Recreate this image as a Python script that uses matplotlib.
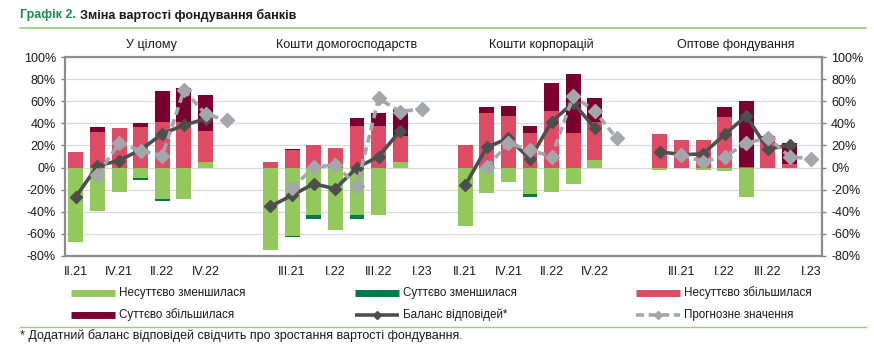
import numpy as np
import matplotlib
matplotlib.use("Agg")
import matplotlib.pyplot as plt
from matplotlib import font_manager
from matplotlib.lines import Line2D

names = {f.name for f in font_manager.fontManager.ttflist}
BASE = 'Liberation Sans' if 'Liberation Sans' in names else 'DejaVu Sans'
HAS_NARROW = 'Liberation Sans Narrow' in names
NARROW = 'Liberation Sans Narrow' if HAS_NARROW else BASE
LEG_FS = 9.5 if HAS_NARROW else 8.4
FOOT_FS = 9.5 if HAS_NARROW else 9.0
plt.rcParams['font.family'] = [BASE, 'DejaVu Sans']

nan = np.nan
categories = ["II.21", "III.21", "IV.21", "I.22", "II.22", "III.22", "IV.22", "I.23"]
panel_titles = ["У цілому", "Кошти домогосподарств", "Кошти корпорацій", "Оптове фондування"]

# Panel 1: У цілому
p1_light_green = [-67, -39, -22, -9, -28, -28, 5, nan]
p1_dark_green = [0, 0, 0, -2.4, -2.7, 0, 0, nan]
p1_pink = [14, 32.5, 35.5, 36.7, 41.5, 41.5, 28.3, nan]
p1_dark_red = [0, 4.2, 0, 3.6, 27.7, 30.4, 32.3, nan]
p1_balance = [-26.5, 1.5, 6.3, 16.2, 30.4, 38.5, 43.9, nan]
p1_forecast = [nan, -6.6, 22, 15.3, 10.8, 70, 48.4, 42.7]

# Panel 2: Кошти домогосподарств
p2_light_green = [-74.9, -62, -42.7, -56.5, -42.7, -42.7, 5.1, nan]
p2_dark_green = [0, -0.9, -3.9, 0, -3.9, 0, 0, nan]
p2_pink = [5.1, 15.6, 20.2, 18, 37.6, 37.6, 23.5, nan]
p2_dark_red = [0, 1.2, 0, 0, 7.2, 12, 24.3, nan]
p2_balance = [-35.2, -25, -14.7, -19.2, 0, 9.9, 33.4, nan]
p2_forecast = [nan, -18.6, 0.3, 2.4, -16.5, 62.5, 50.5, 53.2]

# Panel 3: Кошти корпорацій
p3_light_green = [-52.6, -23.2, -13.2, -23.8, -22, -15.3, 6.9, nan]
p3_dark_green = [0, 0, 0, -2.4, 0, 0, 0, nan]
p3_pink = [20.8, 49.6, 46.3, 31.3, 51.1, 31.3, 34.6, nan]
p3_dark_red = [0, 5.4, 9.6, 6.3, 25.6, 53.2, 21.1, nan]
p3_balance = [-16.2, 18.3, 26.5, 7.8, 41.5, 58.6, 35.5, nan]
p3_forecast = [nan, 0.3, 22, 15.9, 9.9, 64.7, 51.1, 26.5]

# Panel 4: Оптове фондування
p4_light_green = [-1.8, -0.6, -1.8, -3.3, -26.2, 0, 0, nan]
p4_dark_green = [0, 0, 0, 0, 0, 0, 0, nan]
p4_pink = [30.4, 24.7, 24.7, 46, 0.5, 27.4, 3, nan]
p4_dark_red = [0, 0, 0, 9, 60, 1.2, 19.5, nan]
p4_balance = [14.4, 11.7, 12.3, 30.1, 46.6, 16.5, 20.5, nan]
p4_forecast = [nan, 11.4, 5.4, 9.9, 22, 27.1, 9.9, 7.8]

panels = [
    (p1_light_green, p1_dark_green, p1_pink, p1_dark_red, p1_balance, p1_forecast),
    (p2_light_green, p2_dark_green, p2_pink, p2_dark_red, p2_balance, p2_forecast),
    (p3_light_green, p3_dark_green, p3_pink, p3_dark_red, p3_balance, p3_forecast),
    (p4_light_green, p4_dark_green, p4_pink, p4_dark_red, p4_balance, p4_forecast),
]

series_names = ["Несуттєво зменшилася", "Суттєво зменшилася", "Несуттєво збільшилася",
                "Суттєво збільшилася", "Баланс відповідей*", "Прогнозне значення"]
C_LG = '#92C85C'
C_DG = '#007A48'
C_PINK = '#DE4B65'
C_DR = '#7B0030'
C_BAL = '#4E4E4E'
C_FC = '#A3A7AB'
bar_colors = [C_LG, C_DG, C_PINK, C_DR]

W, H = 874, 360
fig = plt.figure(figsize=(W / 100, H / 100), dpi=100)
ax = fig.add_axes([65 / W, 1 - 256 / H, (822 - 65) / W, (256 - 57) / H])

n = len(categories)
step = n + 1
tick_pos, tick_lab = [], []
for p, data in enumerate(panels):
    x = np.arange(n) + p * step
    pos_bottom = np.zeros(n)
    neg_bottom = np.zeros(n)
    for vals, col in zip(data[:4], bar_colors):
        v = np.array(vals, dtype=float)
        v0 = np.nan_to_num(v)
        bottom = np.where(v0 >= 0, pos_bottom, neg_bottom)
        mask = v0 != 0
        ax.bar(x[mask], v0[mask], bottom=bottom[mask], width=0.69, color=col,
               zorder=2, linewidth=0)
        pos_bottom = pos_bottom + np.where(v0 > 0, v0, 0)
        neg_bottom = neg_bottom + np.where(v0 < 0, v0, 0)
    ax.plot(x, data[4], color=C_BAL, lw=2.6, marker='D', ms=6.2, zorder=3)
    ax.plot(x, data[5], color=C_FC, lw=2.6, ls=(0, (2.2, 1.3)), marker='D', ms=7.2,
            zorder=4)
    start = 0 if p % 2 == 0 else 1
    for i in range(start, n, 2):
        tick_pos.append(x[i])
        tick_lab.append(categories[i])
    fig.text((65 + (p * step + 3.5 + 0.5) * (757 / (4 * step - 1))) / W, 1 - 45 / H,
             panel_titles[p], ha='center', va='center', fontsize=9, color='#1a1a1a')

ax.set_xlim(-0.5, 4 * step - 1.5)
ax.set_ylim(-80, 100)
ax.set_yticks(np.arange(-80, 101, 20))
ax.set_yticklabels([f"{v}%" for v in range(-80, 101, 20)])
ax.set_xticks(tick_pos)
ax.set_xticklabels(tick_lab)
ax.tick_params(axis='x', length=0, pad=7, labelsize=9, colors='#1a1a1a')
ax.tick_params(axis='y', left=True, right=True, labelleft=True, labelright=True,
               length=3, width=1, color='#808080', labelsize=9, labelcolor='#1a1a1a',
               direction='out')
ax.grid(axis='y', color='#D9D9D9', lw=0.9, zorder=0)
ax.set_axisbelow(True)
for s in ax.spines.values():
    s.set_color('#8C8C8C')
    s.set_linewidth(1.6)

# Title
t1 = fig.text(20 / W, 1 - 15 / H, "Графік 2.", fontsize=9, fontweight='bold',
              color='#1E8A4F', va='center', ha='left')
fig.canvas.draw()
bb = t1.get_window_extent()
fig.text((bb.x1 + 4) / W, 1 - 15 / H, "Зміна вартості фондування банків", fontsize=9,
         fontweight='bold', color='#1a1a1a', va='center', ha='left')
fig.add_artist(Line2D([20 / W, 866 / W], [1 - 28 / H, 1 - 28 / H], color='#9CCC74', lw=1.2))

# Legend (manual)
leg_rows = [1 - 293 / H, 1 - 315 / H]
leg_cols = [71, 355, 636]
handles = [
    dict(color=C_LG, lw=5),
    dict(color=C_DG, lw=5),
    dict(color=C_PINK, lw=5),
    dict(color=C_DR, lw=5),
    dict(color=C_BAL, lw=2.6),
    dict(color=C_FC, lw=2.6, ls=(0, (2.2, 1.3))),
]
for k, (name, h) in enumerate(zip(series_names, handles)):
    r, c = divmod(k, 3)
    x0 = leg_cols[c]
    y = leg_rows[r]
    fig.add_artist(Line2D([x0 / W, (x0 + 44) / W], [y, y], solid_capstyle='butt', **h))
    if k == 4:
        fig.add_artist(Line2D([(x0 + 22) / W], [y], marker='D', ms=4, color=C_BAL, lw=0))
    if k == 5:
        fig.add_artist(Line2D([(x0 + 22) / W], [y], marker='D', ms=4.5, color=C_FC, lw=0))
    fig.text((x0 + 48) / W, y, name, fontsize=LEG_FS, family=[NARROW, 'DejaVu Sans'],
             va='center', ha='left', color='#1a1a1a')

fig.add_artist(Line2D([20 / W, 866 / W], [1 - 327 / H, 1 - 327 / H], color='#9CCC74', lw=1.0))
fig.text(20 / W, 1 - 336 / H,
         "* Додатний баланс відповідей свідчить про зростання вартості фондування.",
         fontsize=FOOT_FS, family=[NARROW, 'DejaVu Sans'], va='center', ha='left',
         color='#1a1a1a')

fig.savefig("out.png", dpi=100)
